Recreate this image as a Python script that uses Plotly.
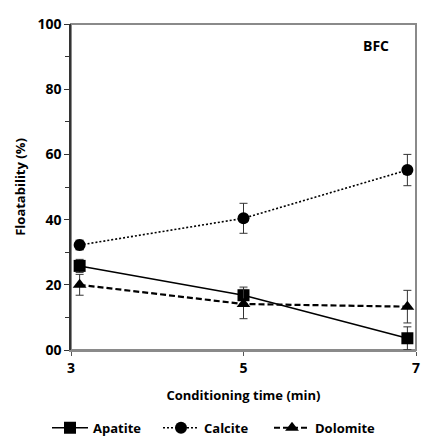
import plotly.graph_objects as go

# Conditioning time (min) and floatability (%) with standard deviations
time_min = [3.1, 5.0, 6.9]

apatite = [25.8, 16.8, 3.6]
apatite_err = [2.0, 2.5, 3.5]

calcite = [32.2, 40.4, 55.2]
calcite_err = [1.5, 4.6, 4.8]

dolomite = [20.0, 14.1, 13.3]
dolomite_err = [3.2, 4.5, 5.0]

y_ticks = [0, 20, 40, 60, 80, 100]
y_tick_labels = ["00", "20", "40", "60", "80", "100"]
x_ticks = [3, 5, 7]

FONT = "Open Sans"

fig = go.Figure()

series = [
    ("Apatite", apatite, apatite_err, "square", "solid", 1.5),
    ("Calcite", calcite, calcite_err, "circle", "2px,2px", 1.6),
    ("Dolomite", dolomite, dolomite_err, "triangle-up", "6px,3px", 2.2),
]
for name, vals, errs, symbol, dash, lw in series:
    fig.add_trace(go.Scatter(
        x=time_min, y=vals, name=name, mode="lines+markers",
        line=dict(color="black", width=lw, dash=dash),
        marker=dict(symbol=symbol, size=12, color="black"),
        error_y=dict(type="data", array=errs, visible=True,
                     color="#333333", thickness=1, width=4),
    ))

# Plot frame
fig.add_shape(type="rect", xref="paper", yref="paper", x0=0, y0=0, x1=1, y1=1,
              line=dict(color="#8a8a8a", width=2), layer="below")

fig.add_annotation(text="<b>BFC</b>", xref="paper", yref="paper",
                   x=0.885, y=0.935, xanchor="center", yanchor="middle",
                   showarrow=False,
                   font=dict(family=FONT, size=14, color="black"))

fig.update_layout(
    width=427, height=447,
    margin=dict(l=71, r=7, t=24, b=97),
    paper_bgcolor="white", plot_bgcolor="white",
    font=dict(family=FONT, size=13, color="black", weight="bold"),
    showlegend=True,
    legend=dict(orientation="h", xref="container", yref="container",
                x=0.5, xanchor="center", y=0.043, yanchor="middle",
                font=dict(family=FONT, size=13, weight="bold"),
                itemwidth=36, tracegroupgap=0,
                entrywidth=60, entrywidthmode="pixels"),
)

fig.update_xaxes(
    range=[3, 7], tickvals=x_ticks, ticks="outside", ticklen=4,
    tickcolor="#555", showgrid=False, zeroline=False,
    showline=True, linecolor="#8a8a8a", linewidth=2,
    title=dict(text="Conditioning time (min)", standoff=15,
               font=dict(family=FONT, size=13, weight="bold")),
    tickfont=dict(family=FONT, size=14, weight="bold"),
)
fig.update_yaxes(
    range=[0, 100], tickvals=y_ticks, ticktext=y_tick_labels,
    ticks="outside", ticklen=5, tickcolor="#333",
    minor=dict(dtick=10, ticks="outside", ticklen=4, tickcolor="#333"),
    showgrid=False, zeroline=False,
    showline=True, linecolor="#333333", linewidth=1.5,
    title=dict(text="Floatability (%)", standoff=9,
               font=dict(family=FONT, size=13, weight="bold")),
    tickfont=dict(family=FONT, size=14, weight="bold"),
)

fig.write_html("out.html")
